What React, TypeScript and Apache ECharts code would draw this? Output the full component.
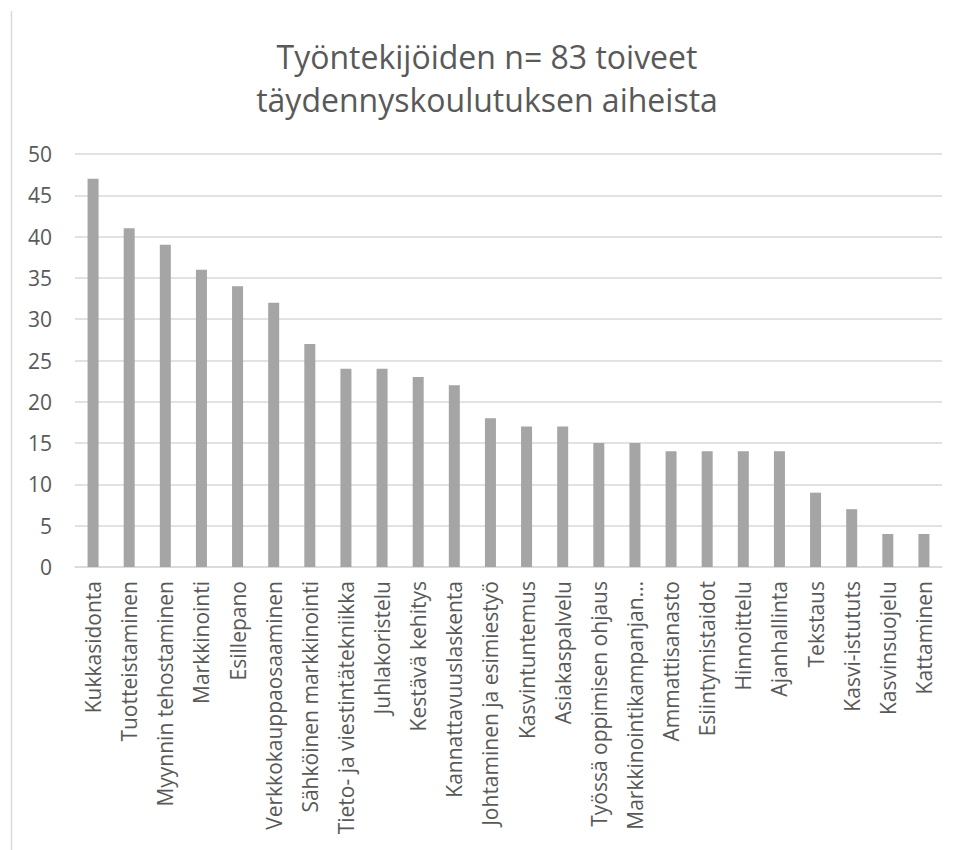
import React, { useEffect, useRef } from "react";
import * as echarts from "echarts";

const titleLines = ["Työntekijöiden n= 83 toiveet", "täydennyskoulutuksen aiheista"];

const categories = [
  "Kukkasidonta",
  "Tuotteistaminen",
  "Myynnin tehostaminen",
  "Markkinointi",
  "Esillepano",
  "Verkkokauppaosaaminen",
  "Sähköinen markkinointi",
  "Tieto- ja viestintätekniikka",
  "Juhlakoristelu",
  "Kestävä kehitys",
  "Kannattavuuslaskenta",
  "Johtaminen ja esimiestyö",
  "Kasvintuntemus",
  "Asiakaspalvelu",
  "Työssä oppimisen ohjaus",
  "Markkinointikampanjan…",
  "Ammattisanasto",
  "Esiintymistaidot",
  "Hinnoittelu",
  "Ajanhallinta",
  "Tekstaus",
  "Kasvi-istututs",
  "Kasvinsuojelu",
  "Kattaminen",
];

const counts = [47, 41, 39, 36, 34, 32, 27, 24, 24, 23, 22, 18, 17, 17, 15, 15, 14, 14, 14, 14, 9, 7, 4, 4];

const yMin = 0;
const yMax = 50;
const yStep = 5;

const FONT = "'Open Sans', 'Noto Sans', sans-serif";
const TEXT = "#595959";
const GRID = "#D9D9D9";
const BAR = "#A5A5A5";

export default function App() {
  const ref = useRef<HTMLDivElement>(null);

  useEffect(() => {
    if (!ref.current) return;
    const chart = echarts.init(ref.current, undefined, { renderer: "svg" });
    chart.setOption({
      animation: false,
      backgroundColor: "#FFFFFF",
      textStyle: { fontFamily: FONT },
      graphic: [
        {
          type: "line",
          shape: { x1: 11.5, y1: 11, x2: 11.5, y2: 850 },
          style: { stroke: GRID, lineWidth: 1.5 },
        },
        {
          type: "text",
          x: 487,
          y: 35,
          style: {
            text: titleLines.join("\n"),
            align: "center",
            verticalAlign: "top",
            fontFamily: FONT,
            fontSize: 32,
            lineHeight: 43,
            fill: TEXT,
          },
        },
      ],
      grid: { left: 75, right: 16, top: 154, bottom: 283, containLabel: false },
      xAxis: {
        type: "category",
        data: categories,
        axisLine: { show: true, lineStyle: { color: GRID, width: 1.5 } },
        axisTick: { show: false },
        axisLabel: {
          interval: 0,
          rotate: 90,
          margin: 14,
          fontFamily: FONT,
          fontSize: 21,
          color: TEXT,
        },
      },
      yAxis: {
        type: "value",
        min: yMin,
        max: yMax,
        interval: yStep,
        axisLine: { show: false },
        axisTick: { show: false },
        splitLine: { show: true, lineStyle: { color: GRID, width: 1.5 } },
        axisLabel: {
          margin: 23,
          fontFamily: FONT,
          fontSize: 21,
          color: TEXT,
        },
      },
      series: [
        {
          type: "bar",
          data: counts,
          barWidth: 11,
          itemStyle: { color: BAR },
        },
      ],
    });
    return () => chart.dispose();
  }, []);

  return (
    <div
      ref={ref}
      style={{ position: "absolute", left: 0, top: 0, width: 958, height: 850 }}
    />
  );
}
